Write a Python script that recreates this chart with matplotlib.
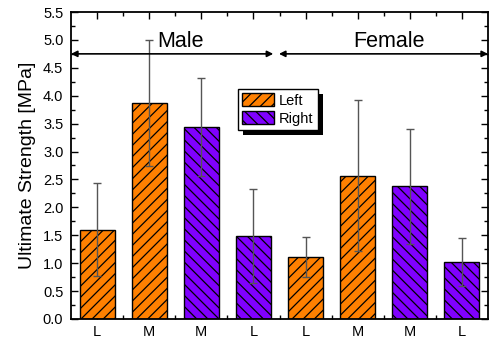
import matplotlib
matplotlib.use("Agg")
import matplotlib.pyplot as plt
from matplotlib.ticker import MultipleLocator, FixedLocator
from matplotlib.patches import Patch, Rectangle
from matplotlib.transforms import IdentityTransform

plt.rcParams['font.family'] = ['Liberation Sans', 'DejaVu Sans']
plt.rcParams['hatch.linewidth'] = 0.9

categories = ["L", "M", "M", "L", "L", "M", "M", "L"]
sides = ["Left", "Left", "Right", "Right", "Left", "Left", "Right", "Right"]
values = [1.60, 3.87, 3.44, 1.49, 1.11, 2.57, 2.38, 1.02]
errors = [0.83, 1.13, 0.88, 0.84, 0.35, 1.35, 1.03, 0.43]
groups = ["Male", "Female"]

colors = {"Left": "#FF8000", "Right": "#8000FF"}
hatches = {"Left": "///", "Right": "\\\\\\"}

fig = plt.figure(figsize=(4.91, 3.40), dpi=100)
ax = fig.add_axes([0.1446, 0.0618, 0.8493, 0.9029])

x = list(range(1, len(values) + 1))
for xi, v, s in zip(x, values, sides):
    ax.bar(xi, v, width=0.67, color=colors[s], edgecolor="black",
           linewidth=1.0, hatch=hatches[s], zorder=2)
ax.errorbar(x, values, yerr=errors, fmt="none", ecolor="#555555",
            elinewidth=1.0, capsize=3, capthick=1.0, zorder=3)

ax.set_xlim(0.5, 8.5)
ax.set_ylim(0, 5.5)
ax.set_xticks(x)
ax.set_xticklabels(categories)
ax.xaxis.set_minor_locator(FixedLocator([i + 0.5 for i in range(1, 8)]))
ax.yaxis.set_major_locator(MultipleLocator(0.5))
ax.yaxis.set_minor_locator(MultipleLocator(0.25))
ax.tick_params(axis="both", which="both", direction="in", top=True, right=True)
ax.tick_params(axis="both", which="major", length=5, width=1, labelsize=10.5)
ax.tick_params(axis="both", which="minor", length=3, width=1)
ax.tick_params(axis="y", which="major", pad=5.5)
ax.tick_params(axis="x", which="major", pad=4)
for sp in ax.spines.values():
    sp.set_linewidth(1.3)
ax.set_ylabel("Ultimate Strength [MPa]", fontsize=14)
ax.yaxis.set_label_coords(-0.084, 0.5)

# group arrows
arrow_y = 4.75
ax.annotate("", xy=(0.5, arrow_y), xytext=(4.38, arrow_y),
            arrowprops=dict(arrowstyle="<|-|>", color="black", lw=1.2,
                            mutation_scale=9, shrinkA=0, shrinkB=0))
ax.annotate("", xy=(4.49, arrow_y), xytext=(8.5, arrow_y),
            arrowprops=dict(arrowstyle="<|-|>", color="black", lw=1.2,
                            mutation_scale=9, shrinkA=0, shrinkB=0))
ax.text(2.6, 4.87, groups[0], ha="center", va="baseline", fontsize=15.5)
ax.text(6.6, 4.87, groups[1], ha="center", va="baseline", fontsize=15.5)

handles = [Patch(facecolor=colors[s], edgecolor="black", hatch=hatches[s], label=s)
           for s in ["Left", "Right"]]
leg = ax.legend(handles=handles, loc="upper left", bbox_to_anchor=(0.40, 0.75),
                fontsize=10.5, frameon=True, fancybox=False, framealpha=1,
                edgecolor="black", borderpad=0.3, handlelength=2.2,
                handleheight=1.0, handletextpad=0.3, labelspacing=0.25,
                borderaxespad=0)
leg.get_frame().set_linewidth(1.0)

fig.canvas.draw()
bb = leg.get_window_extent()
shadow = Rectangle((bb.x0 + 5, bb.y0 - 5), bb.width, bb.height,
                   transform=IdentityTransform(), facecolor="black",
                   edgecolor="none", zorder=4.9, clip_on=False)
ax.add_artist(shadow)
leg.set_zorder(5)

fig.savefig("out.png", dpi=100)
